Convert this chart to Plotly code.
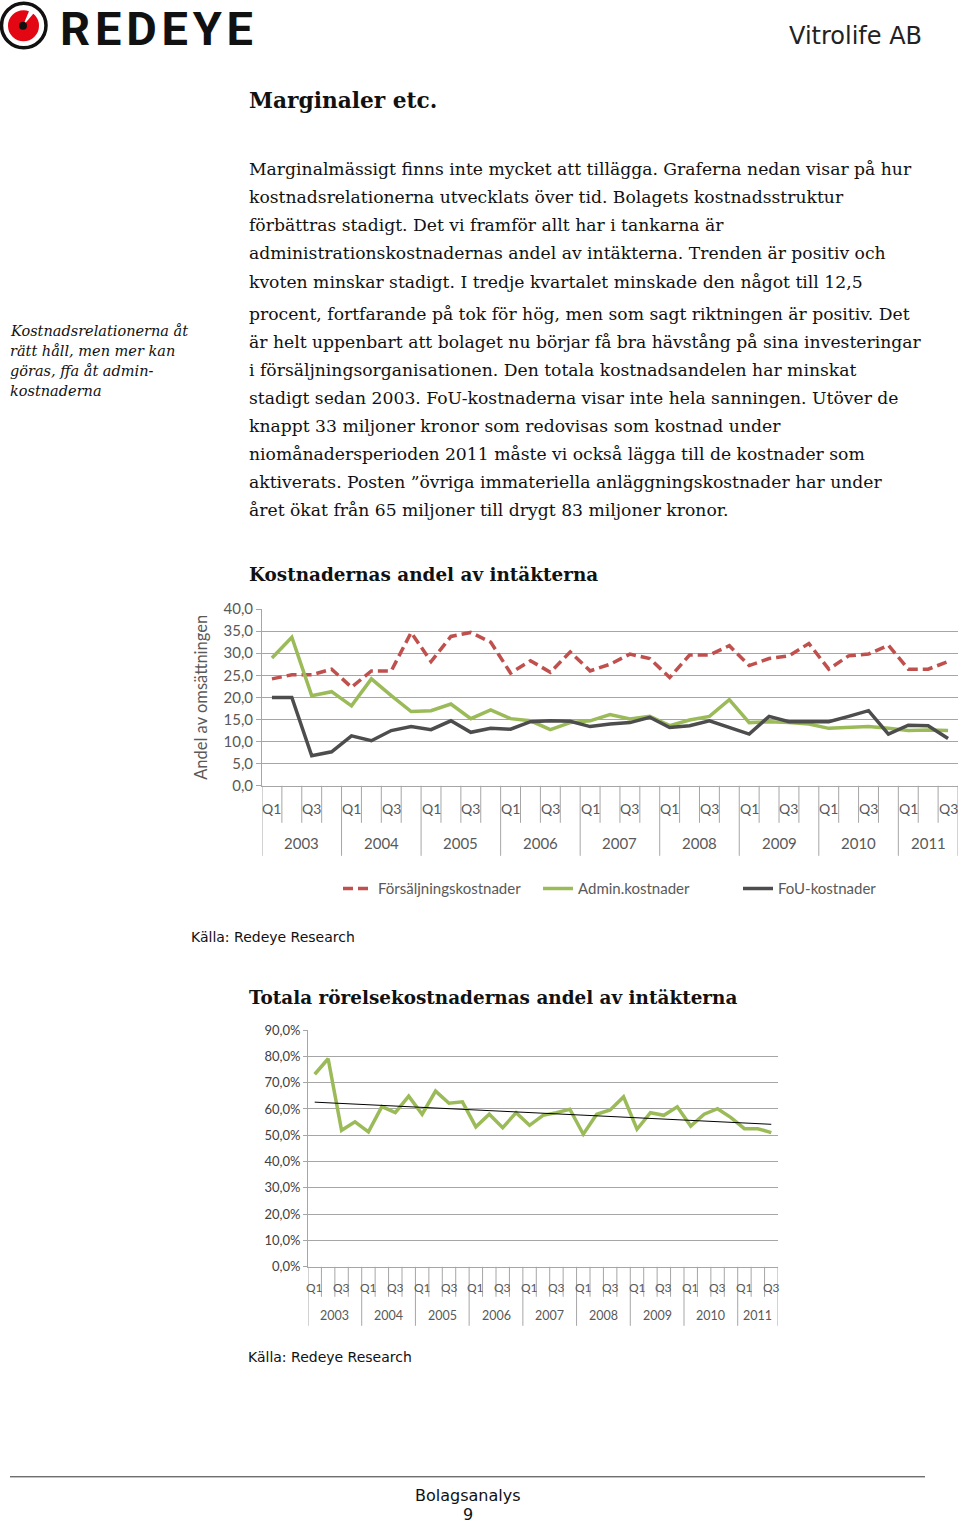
import numpy as np
import plotly.graph_objects as go

W, H = 960, 1523

years = ["2003", "2004", "2005", "2006", "2007", "2008", "2009", "2010", "2011"]
quarters = ["Q1", "Q2", "Q3", "Q4"] * 8 + ["Q1", "Q2", "Q3"]

# andel av omsättningen, procent
forsaljning = [24.2, 25.1, 25.1, 26.4, 22.3, 26.0, 26.0, 34.7, 28.1, 33.8, 34.7, 32.5,
               25.5, 28.3, 25.7, 30.3, 26.0, 27.5, 29.8, 28.8, 24.5, 29.6, 29.6, 31.7,
               27.2, 28.8, 29.4, 32.2, 26.4, 29.4, 29.8, 31.8, 26.4, 26.4, 28.1]
admin = [28.9, 33.6, 20.4, 21.3, 18.1, 24.2, 20.4, 16.8, 17.0, 18.5, 15.2, 17.2,
         15.2, 14.7, 12.7, 14.3, 14.7, 16.1, 15.1, 15.7, 13.6, 14.9, 15.7, 19.5,
         14.3, 14.5, 14.3, 14.0, 13.0, 13.1, 13.4, 13.0, 12.5, 12.6, 12.5]
fou = [20.0, 20.0, 6.8, 7.7, 11.3, 10.2, 12.5, 13.4, 12.7, 14.7, 12.1, 13.0,
       12.8, 14.5, 14.7, 14.6, 13.4, 14.0, 14.3, 15.5, 13.2, 13.6, 14.7, 13.2,
       11.7, 15.7, 14.5, 14.5, 14.5, 15.7, 17.0, 11.7, 13.7, 13.6, 10.7]
totalt = [73.2, 79.1, 51.9, 55.1, 51.3, 60.9, 58.6, 64.9, 58.0, 66.8, 62.2, 62.7,
          53.2, 58.0, 52.9, 58.6, 53.8, 57.6, 58.6, 59.9, 50.4, 58.0, 59.6, 64.6,
          52.3, 58.6, 57.6, 60.8, 53.5, 58.0, 60.1, 56.7, 52.5, 52.5, 51.0]

brodtext = [
    "Marginalmässigt finns inte mycket att tillägga. Graferna nedan visar på hur",
    "kostnadsrelationerna utvecklats över tid. Bolagets kostnadsstruktur",
    "förbättras stadigt. Det vi framför allt har i tankarna är",
    "administrationskostnadernas andel av intäkterna. Trenden är positiv och",
    "kvoten minskar stadigt. I tredje kvartalet minskade den något till 12,5",
    "procent, fortfarande på tok för hög, men som sagt riktningen är positiv. Det",
    "är helt uppenbart att bolaget nu börjar få bra hävstång på sina investeringar",
    "i försäljningsorganisationen. Den totala kostnadsandelen har minskat",
    "stadigt sedan 2003. FoU-kostnaderna visar inte hela sanningen. Utöver de",
    "knappt 33 miljoner kronor som redovisas som kostnad under",
    "niomånadersperioden 2011 måste vi också lägga till de kostnader som",
    "aktiverats. Posten ”övriga immateriella anläggningskostnader har under",
    "året ökat från 65 miljoner till drygt 83 miljoner kronor.",
]
brodtext_y = [168, 196, 224, 252, 281, 313, 341, 369, 397, 425, 453, 481, 509]
sidotext = ["Kostnadsrelationerna åt", "rätt håll, men mer kan",
            "göras, ffa åt admin-", "kostnaderna"]

# sidans pixlar -> paper; sidan ritas något ihoptryckt på höjden
TOP, HE = 9.2, 1505


def fx(p):
    return p / W


def fy(p):
    return 1 - (p - TOP) / HE


idx = list(range(len(quarters)))
year_of = [years[i // 4] for i in idx]
trend = np.polyval(np.polyfit(idx, totalt, 1), idx)

GRID = "#a6a6a6"
LBL = "#595959"
SERIF = "DejaVu Serif"
SANS = "DejaVu Sans"

fig = go.Figure()
fig.add_trace(go.Scatter(x=idx, y=forsaljning, mode="lines", name="Försäljningskostnader",
                         line=dict(color="#c0504d", width=3.5, dash="10px,5px")))
fig.add_trace(go.Scatter(x=idx, y=admin, mode="lines", name="Admin.kostnader",
                         line=dict(color="#9bbb59", width=3.5)))
fig.add_trace(go.Scatter(x=idx, y=fou, mode="lines", name="FoU-kostnader",
                         line=dict(color="#4d4d4d", width=3.5)))
fig.add_trace(go.Scatter(x=idx, y=totalt, mode="lines", xaxis="x2", yaxis="y2", showlegend=False,
                         line=dict(color="#9bbb59", width=3.5)))
fig.add_trace(go.Scatter(x=idx, y=trend, mode="lines", xaxis="x2", yaxis="y2", showlegend=False,
                         line=dict(color="#000000", width=1)))

ann = []
shapes = []

# sidhuvud
ann.append(dict(x=fx(58), y=fy(28), text="<b>R\u200aE\u200aD\u200aE\u200aY\u200aE</b>", xanchor="left",
                font=dict(family="Roboto", size=47, color="#111111")))
ann.append(dict(x=fx(924), y=fy(35), text="Vitrolife AB", xanchor="right",
                font=dict(family=SANS, size=24, color="#222222")))
shapes.append(dict(type="circle", xref="paper", yref="paper", x0=fx(1.5), x1=fx(46), y0=fy(2.5), y1=fy(47),
                   line=dict(color="#111111", width=3.5), fillcolor="white"))
shapes.append(dict(type="circle", xref="paper", yref="paper", x0=fx(8), x1=fx(39), y0=fy(9.5), y1=fy(40.5),
                   line=dict(width=0), fillcolor="#e30613"))
shapes.append(dict(type="path", xref="paper", yref="paper",
                   path=f"M{fx(23)},{fy(25)} L{fx(30)},{fy(8)} L{fx(35)},{fy(11)} Z",
                   line=dict(width=0), fillcolor="white"))
shapes.append(dict(type="circle", xref="paper", yref="paper", x0=fx(19), x1=fx(27), y0=fy(21), y1=fy(29),
                   line=dict(width=0), fillcolor="#111111"))

ann.append(dict(x=fx(247), y=fy(100), text="<b>Marginaler etc.</b>", xanchor="left",
                font=dict(family=SERIF, size=21.7, color="#111111")))
for t, yy in zip(brodtext, brodtext_y):
    ann.append(dict(x=fx(247), y=fy(yy), text=t, xanchor="left",
                    font=dict(family=SERIF, size=17.2, color="#111111")))
for k, t in enumerate(sidotext):
    ann.append(dict(x=fx(8), y=fy(330 + 20 * k), text=f"<i>{t}</i>", xanchor="left",
                    font=dict(family=SERIF, size=14.5, color="#111111")))

# diagram 1
ann.append(dict(x=fx(247), y=fy(574), text="<b>Kostnadernas andel av intäkterna</b>", xanchor="left",
                font=dict(family=SERIF, size=18.4, color="#111111")))
ann.append(dict(x=fx(201), y=fy(697), text="Andel av omsättningen", textangle=-90,
                font=dict(family="Lato", size=16.5, color=LBL)))
for i, q in enumerate(quarters):
    if q in ("Q1", "Q3"):
        ann.append(dict(x=i, xref="x", y=fy(808), text=q, font=dict(family="Lato", size=14, color=LBL)))
        ann.append(dict(x=i, xref="x2", y=fy(1287), text=q, font=dict(family="Lato", size=12, color=LBL)))
for yr in years:
    pos = [i for i in idx if year_of[i] == yr]
    mid = (pos[0] + pos[-1]) / 2
    ann.append(dict(x=mid, xref="x", y=fy(842), text=yr, font=dict(family="Lato", size=15, color=LBL)))
    ann.append(dict(x=mid, xref="x2", y=fy(1315), text=yr, font=dict(family="Lato", size=12.5, color=LBL)))
for i in range(len(idx) + 1):
    long = i == len(idx) or quarters[i] == "Q1"
    shapes.append(dict(type="line", xref="x", yref="paper", x0=i - 0.5, x1=i - 0.5,
                       y0=fy(785), y1=fy(855 if long else 822), line=dict(color=GRID, width=1)))
    shapes.append(dict(type="line", xref="x2", yref="paper", x0=i - 0.5, x1=i - 0.5,
                       y0=fy(1266), y1=fy(1325 if long else 1296), line=dict(color=GRID, width=1)))

ann.append(dict(x=fx(189), y=fy(936), text="Källa: Redeye Research", xanchor="left",
                font=dict(family=SANS, size=14, color="#111111")))

# diagram 2
ann.append(dict(x=fx(247), y=fy(997), text="<b>Totala rörelsekostnadernas andel av intäkterna</b>",
                xanchor="left", font=dict(family=SERIF, size=18.4, color="#111111")))
ann.append(dict(x=fx(246), y=fy(1356), text="Källa: Redeye Research", xanchor="left",
                font=dict(family=SANS, size=14, color="#111111")))

# sidfot
shapes.append(dict(type="line", xref="paper", yref="paper", x0=fx(10), x1=fx(925), y0=fy(1476), y1=fy(1476),
                   line=dict(color="#333333", width=1)))
ann.append(dict(x=fx(468), y=fy(1495), text="Bolagsanalys", font=dict(family=SANS, size=16, color="#111111")))
ann.append(dict(x=fx(468), y=fy(1514), text="9", font=dict(family=SANS, size=16, color="#111111")))

for a in ann:
    a.setdefault("xref", "paper")
    a.setdefault("yref", "paper")
    a.setdefault("showarrow", False)
    a.setdefault("xanchor", "center")
    a.setdefault("yanchor", "middle")

fig.update_layout(
    width=W, height=H, margin=dict(l=0, r=0, t=0, b=0),
    paper_bgcolor="white", plot_bgcolor="white",
    separators=", ",
    annotations=ann, shapes=shapes,
    xaxis=dict(domain=[fx(262), fx(958)], range=[-0.5, 34.5], anchor="y", showticklabels=False,
               showgrid=False, zeroline=False, showline=True, linecolor=GRID),
    yaxis=dict(domain=[fy(785), fy(608)], range=[0, 40.05], dtick=5, tickformat=".1f", anchor="x",
               showgrid=True, gridcolor=GRID, zeroline=False, showline=True, linecolor=GRID,
               ticks="outside", ticklen=5, tickcolor=GRID,
               tickfont=dict(family="Lato", size=15, color=LBL)),
    xaxis2=dict(domain=[fx(308), fx(778)], range=[-0.5, 34.5], anchor="y2", showticklabels=False,
                showgrid=False, zeroline=False, showline=True, linecolor=GRID),
    yaxis2=dict(domain=[fy(1266), fy(1029)], range=[0, 90.1], dtick=10, tickformat=".1f", ticksuffix="%",
                anchor="x2", showgrid=True, gridcolor=GRID, zeroline=False, showline=True, linecolor=GRID,
                ticks="outside", ticklen=4, tickcolor=GRID,
                tickfont=dict(family="Lato", size=13, color="#404040")),
    legend=dict(orientation="h", x=fx(338), y=fy(888), xanchor="left", yanchor="middle",
                entrywidth=155, font=dict(family="Lato", size=15, color=LBL)),
)

fig.write_html("out.html", config={"displayModeBar": False},
               post_script="document.body.style.margin='0';document.body.style.overflow='hidden';")
